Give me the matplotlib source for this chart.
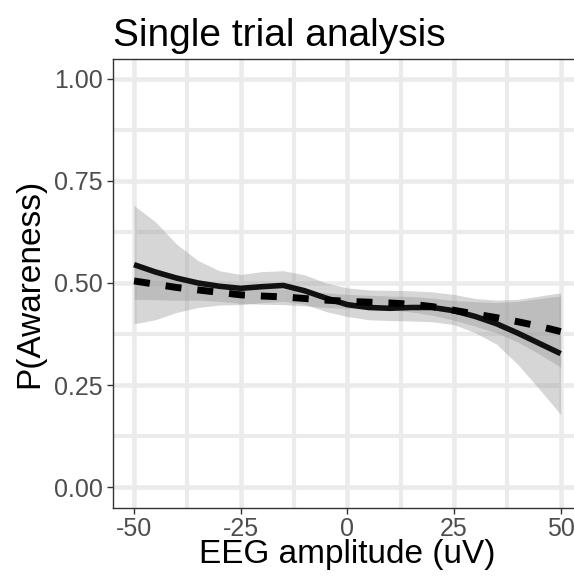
import matplotlib
matplotlib.use("Agg")
import matplotlib.pyplot as plt
import numpy as np

plt.rcParams['font.family'] = ['Liberation Sans', 'DejaVu Sans']

# ---- data ----
eeg = [-50, -45, -40, -35, -30, -25, -20, -15, -10, -5, 0, 5, 10, 15, 20, 25, 30, 35, 40, 45, 50]

solid_fit = [0.545, 0.527, 0.512, 0.500, 0.492, 0.487, 0.491, 0.494, 0.481, 0.463, 0.447,
             0.440, 0.438, 0.440, 0.440, 0.432, 0.418, 0.400, 0.377, 0.352, 0.327]
solid_hi = [0.690, 0.650, 0.595, 0.555, 0.530, 0.521, 0.528, 0.530, 0.520, 0.500, 0.488,
            0.483, 0.482, 0.481, 0.478, 0.472, 0.462, 0.458, 0.460, 0.468, 0.476]
solid_lo = [0.400, 0.410, 0.428, 0.440, 0.446, 0.447, 0.452, 0.455, 0.448, 0.430, 0.418,
            0.410, 0.408, 0.407, 0.405, 0.398, 0.378, 0.350, 0.300, 0.240, 0.178]

dotted_fit = [0.505, 0.497, 0.489, 0.483, 0.477, 0.471, 0.468, 0.466, 0.462, 0.458, 0.455,
              0.453, 0.451, 0.448, 0.442, 0.433, 0.424, 0.415, 0.405, 0.394, 0.381]
dotted_hi = [0.550, 0.535, 0.520, 0.508, 0.499, 0.492, 0.488, 0.485, 0.480, 0.476, 0.472,
             0.470, 0.468, 0.467, 0.463, 0.457, 0.454, 0.452, 0.455, 0.462, 0.468]
dotted_lo = [0.460, 0.459, 0.458, 0.458, 0.455, 0.450, 0.448, 0.447, 0.444, 0.440, 0.438,
             0.436, 0.434, 0.429, 0.421, 0.409, 0.394, 0.378, 0.355, 0.326, 0.294]

x_ticks = [-50, -25, 0, 25, 50]
x_ticklabels = ["-50", "-25", "0", "25", "50"]
y_ticks = [0.0, 0.25, 0.5, 0.75, 1.0]
y_ticklabels = ["0.00", "0.25", "0.50", "0.75", "1.00"]

title = "Single trial analysis"
xlabel = "EEG amplitude (uV)"
ylabel = "P(Awareness)"

# ---- figure ----
W, H = 574, 579
fig = plt.figure(figsize=(W / 100, H / 100), dpi=100)
ax = fig.add_axes([112.7 / W, 1 - 507.5 / H, (582 - 112.7) / W, (507.5 - 58.5) / H])

ax.set_xlim(-55, 55)
ax.set_ylim(-0.05, 1.05)

grid_c = '#EBEBEB'
ax.set_xticks(x_ticks)
ax.set_xticklabels(x_ticklabels)
ax.set_yticks(y_ticks)
ax.set_yticklabels(y_ticklabels)
ax.set_xticks([-37.5, -12.5, 12.5, 37.5], minor=True)
ax.set_yticks([0.125, 0.375, 0.625, 0.875], minor=True)
ax.grid(True, which='major', color=grid_c, linewidth=3.3)
ax.grid(True, which='minor', color=grid_c, linewidth=3.0)
ax.set_axisbelow(True)
ax.tick_params(which='minor', length=0)
ax.tick_params(which='major', length=4, width=1, color='#333333',
               labelsize=18, labelcolor='#4D4D4D', pad=3)

for side in ['left', 'bottom', 'top', 'right']:
    ax.spines[side].set_color('#333333')
    ax.spines[side].set_linewidth(1.0)

ax.fill_between(eeg, solid_lo, solid_hi, color='#999999', alpha=0.4, linewidth=0)
ax.fill_between(eeg, dotted_lo, dotted_hi, color='#999999', alpha=0.4, linewidth=0)
ax.plot(eeg, solid_fit, color='#111111', linewidth=4.0, solid_capstyle='butt')
ax.plot(eeg, dotted_fit, color='black', linewidth=5.0, linestyle=(0, (2.3, 2.3)),
        dash_capstyle='butt')

fig.text(113 / W, 1 - 46 / H, title, fontsize=28, ha='left', va='baseline', color='black')
fig.text(347 / W, 1 - 555 / H, xlabel, fontsize=24, ha='center', va='center', color='black')
fig.text(30 / W, 1 - 283 / H, ylabel, fontsize=24, ha='center', va='center', rotation=90,
         color='black')

fig.savefig("out.png", dpi=100)
